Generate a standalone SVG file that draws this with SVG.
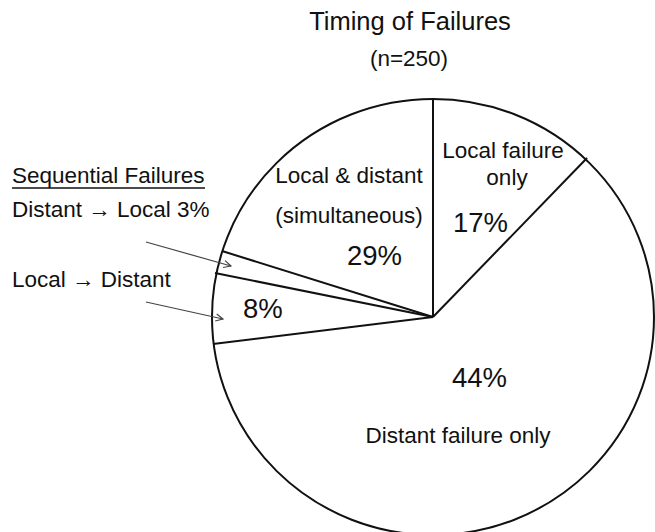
<svg xmlns="http://www.w3.org/2000/svg" width="655" height="532" viewBox="0 0 655 532">
<style>
text{font-family:"Liberation Sans",Arial,sans-serif;fill:#111}
.lbl{font-size:22.5px}
.pct{font-size:27.5px}
.title{font-size:25.5px}
.pie{fill:#fff;stroke:#111;stroke-width:2}
.sl{stroke:#111;stroke-width:2;fill:none}
.arr{stroke:#444;stroke-width:1.2;fill:none}
</style>
<defs>
<marker id="ah" viewBox="0 0 10 10" refX="9" refY="5" markerWidth="9" markerHeight="9" markerUnits="userSpaceOnUse" orient="auto">
<path d="M1,1 L9,5 L1,9" fill="none" stroke="#444" stroke-width="1.3"/>
</marker>
</defs>
<rect width="655" height="532" fill="#fff"/>
<g id="title">
<text class="title" x="410" y="30" text-anchor="middle">Timing of Failures</text>
<text class="lbl" x="409" y="66" text-anchor="middle">(n=250)</text>
</g>
<g id="pie">
<ellipse class="pie" cx="433" cy="317" rx="221" ry="218"/>
</g>
<g id="slices">
<line class="sl" x1="433" y1="317" x2="433" y2="99"/>
<line class="sl" x1="433" y1="317" x2="587" y2="158"/>
<line class="sl" x1="433" y1="317" x2="222" y2="251"/>
<line class="sl" x1="433" y1="317" x2="215" y2="273"/>
<line class="sl" x1="433" y1="317" x2="213" y2="344"/>
</g>
<g id="slice-local-distant">
<text class="lbl" x="349" y="183" text-anchor="middle">Local &amp; distant</text>
<text class="lbl" x="349" y="223" text-anchor="middle">(simultaneous)</text>
<text class="pct" x="347" y="265">29%</text>
</g>
<g id="slice-local-only">
<text class="lbl" x="503" y="158" text-anchor="middle">Local failure</text>
<text class="lbl" x="507" y="185" text-anchor="middle">only</text>
<text class="pct" x="453" y="232">17%</text>
</g>
<g id="slice-distant-only">
<text class="pct" x="452" y="387">44%</text>
<text class="lbl" x="458" y="443" text-anchor="middle">Distant failure only</text>
</g>
<g id="slice-local-to-distant">
<text class="pct" x="243" y="318">8%</text>
</g>
<g id="legend">
<text class="lbl" x="12" y="183">Sequential Failures</text>
<line x1="12" y1="188" x2="205" y2="188" stroke="#111" stroke-width="1.5"/>
<text class="lbl" x="12" y="217">Distant → Local 3%</text>
<text class="lbl" x="12" y="287">Local → Distant</text>
</g>
<g id="connectors">
<line class="arr" x1="146" y1="242" x2="231" y2="266" marker-end="url(#ah)"/>
<line class="arr" x1="146" y1="302" x2="223" y2="319" marker-end="url(#ah)"/>
</g>
</svg>
